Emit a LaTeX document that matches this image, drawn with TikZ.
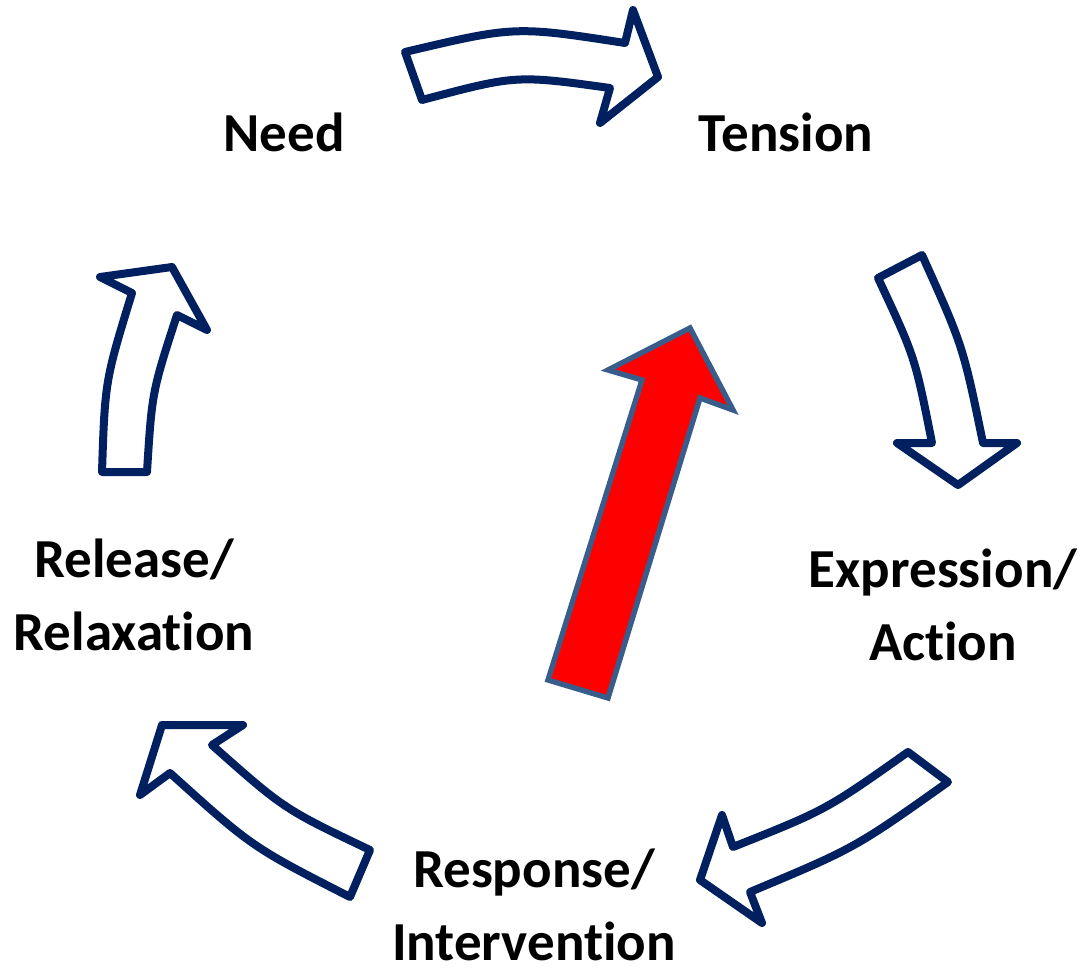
\documentclass[tikz,border=0pt]{standalone}
\usepackage{fontspec}
\setmainfont{Carlito}[Ligatures=NoCommon]
\definecolor{navy}{HTML}{002060}
\definecolor{redline}{HTML}{385D8A}
\begin{document}
\begin{tikzpicture}[x=0.5pt, y=-0.5pt, line join=round]
	\tikzset{cyclearrow/.style={draw=navy, fill=white, line width=4pt},
		stage/.style={font=\fontsize{27.5}{36.5}\selectfont\bfseries, align=center, inner sep=0pt, anchor=base}}
	\useasboundingbox (0,0) rectangle (1081,968);
	\node [stage] (need) at (284,152) {Need};
	\node [stage] (tension) at (786,152) {Tension};
	\node [stage] (expression) at (943,660) {Expression/\\Action};
	\node [stage] (response) at (534,960) {Response/\\Intervention};
	\node [stage] (release) at (134,650) {Release/\\Relaxation};
	\draw [cyclearrow] (405,52) .. controls (515,26) .. (625,43) -- (633,10) -- (658,77) -- (600,123) -- (610,88) .. controls (516,75) .. (422,100) -- cycle;
	\draw [cyclearrow] (878,278) -- (922,255) .. controls (963,346) .. (983,443) -- (1017,443) -- (958,485) -- (897,443) -- (932,443) .. controls (915,357) .. (878,278) -- cycle;
	\draw [cyclearrow] (908,752) -- (948,782) .. controls (855,848) .. (750,892) -- (762,923) -- (700,880) -- (722,815) -- (733,847) .. controls (826,810) .. (908,752) -- cycle;
	\draw [cyclearrow] (350,897) -- (370,850) .. controls (284,809) .. (212,745) -- (243,725) -- (162,725) -- (140,795) -- (170,773) .. controls (252,847) .. (350,897) -- cycle;
	\draw [cyclearrow] (102,472) -- (147,472) .. controls (152,392) .. (177,315) -- (207,330) -- (172,267) -- (100,277) -- (132,293) .. controls (105,381) .. (102,472) -- cycle;
	\draw [fill=red, draw=redline, line width=2.7pt, line join=miter] (548,680) -- (608,698) -- (700,398) -- (733,410) -- (690,328) -- (608,370) -- (642,380) -- cycle;
\end{tikzpicture}
\end{document}
